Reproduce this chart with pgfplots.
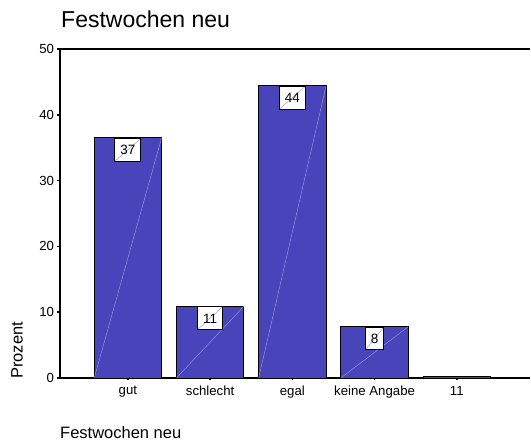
\documentclass[border=0pt]{standalone}
\usepackage{fontspec}
\setmainfont{Liberation Sans}
\usepackage{pgfplots}
\pgfplotsset{compat=1.18}
\definecolor{barblue}{RGB}{72,68,185}
\definecolor{diag}{RGB}{160,156,230}
\begin{document}
\begin{tikzpicture}[x=1pt,y=1pt]
\path[use as bounding box] (0,0) rectangle (531,443);
\begin{axis}[
  at={(60pt,65pt)}, anchor=south west,
  scale only axis, width=470pt, height=329pt,
  xmin=-0.826, xmax=4.89, ymin=0, ymax=50,
  axis lines=left, axis line style={-, line width=1.2pt, black},
  xtick={0,1,2,3,4},
  xticklabels={gut,schlecht,egal,keine Angabe,11},
  ytick={0,10,20,30,40,50},
  tick align=outside, major tick length=2.5pt,
  tick style={line width=1.6pt, black},
  /pgf/number format/assume math mode=true,
  ticklabel style={font=\fontsize{13.2}{15}\selectfont},
  xticklabel style={yshift=-2pt},
  yticklabel style={xshift=0pt},
  clip=false,
]
\addplot[ybar, bar width=0.82, bar shift=0, fill=barblue, draw=black, line width=0.9pt,
  point meta=explicit symbolic,
  nodes near coords,
  nodes near coords align={below},
  every node near coord/.append style={
    anchor=north, fill=white, draw=black, line width=0.9pt,
    font=\fontsize{13.5}{15}\selectfont, text height=9.8pt, text depth=0pt,
    inner xsep=5.5pt, inner ysep=6.5pt, yshift=0pt,
    path picture={\draw[diag, line width=0.4pt] (path picture bounding box.south west) -- (path picture bounding box.north east);}
  }]
  coordinates {(0,36.5) [37] (1,10.9) [11] (2,44.4) [44] (3,7.8) [8]};
\addplot[ybar, bar width=0.82, bar shift=0, fill=barblue, draw=black, line width=0.9pt]
  coordinates {(4,0.2)};
% faint diagonals inside the bars
\addplot[diag, line width=0.4pt, no marks] coordinates {(-0.41,0) (0.41,36.5)};
\addplot[diag, line width=0.4pt, no marks] coordinates {(0.59,0) (1.41,10.9)};
\addplot[diag, line width=0.4pt, no marks] coordinates {(1.59,0) (2.41,44.4)};
\addplot[diag, line width=0.4pt, no marks] coordinates {(2.59,0) (3.41,7.8)};
\draw[line width=1.2pt, black] (rel axis cs:0,1) -- (rel axis cs:1,1);
\end{axis}
\node[anchor=base west, inner sep=0pt, font=\fontsize{23}{26}\selectfont] at (61,415) {Festwochen neu};
\node[anchor=base, rotate=90, inner sep=0pt, font=\fontsize{16.5}{19}\selectfont] at (22.7,92.5) {Prozent};
\node[anchor=base west, inner sep=0pt, font=\fontsize{16.5}{19}\selectfont] at (60,4.7) {Festwochen neu};
\end{tikzpicture}
\end{document}
